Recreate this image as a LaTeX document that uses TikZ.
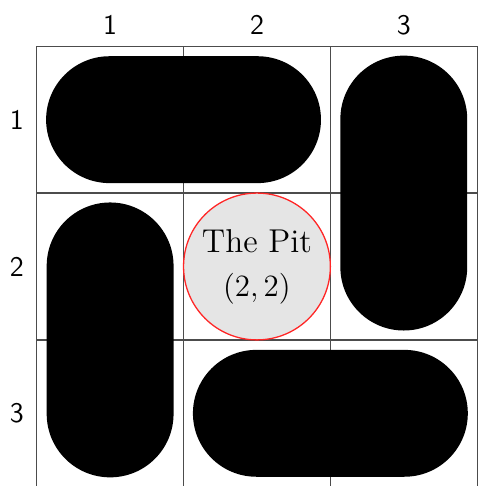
\documentclass[tikz,border=0pt]{standalone}
\usepackage{tikz}
\usepackage{amsmath}
\usetikzlibrary{shapes.misc, shapes.geometric, positioning}
\tikzset{
    % Board
    gridline/.style = {draw=black!70, line width=0.5pt},
    coordlabel/.style = {font=\sffamily\fontsize{11}{13}\selectfont, inner sep=0pt},
    % Pieces
    piece/.style = {rounded rectangle, fill=black, inner sep=0pt, outer sep=0pt,
        minimum width=3.744cm, minimum height=1.728cm},
    pit/.style = {circle, draw=red!85, line width=0.5pt, fill=black!10, minimum size=2cm,
        inner sep=0pt, align=center, font=\fontsize{12.8}{17}\selectfont}
}

\begin{document}
\begin{tikzpicture}
    \useasboundingbox (-0.5,-5.99) rectangle (6.0,0.63);
    \draw [gridline] (0,0) grid[step=2] (6,-6);

    % Column and row numbers
    \node (col1) [coordlabel] at (1,0.29) {1};
    \node (col2) [coordlabel] at (3,0.29) {2};
    \node (col3) [coordlabel] at (5,0.29) {3};
    \node (row1) [coordlabel] at (-0.27,-1) {1};
    \node (row2) [coordlabel] at (-0.27,-3) {2};
    \node (row3) [coordlabel] at (-0.27,-5) {3};

    % Blocks
    \node (topbar) [piece] at (2,-1) {};
    \node (rightbar) [piece, rotate=90] at (5,-2) {};
    \node (leftbar) [piece, rotate=90] at (1,-4) {};
    \node (bottombar) [piece] at (4,-5) {};

    \node (thepit) [pit] at (3,-3) {The Pit\\$(2,2)$};
\end{tikzpicture}
\end{document}
